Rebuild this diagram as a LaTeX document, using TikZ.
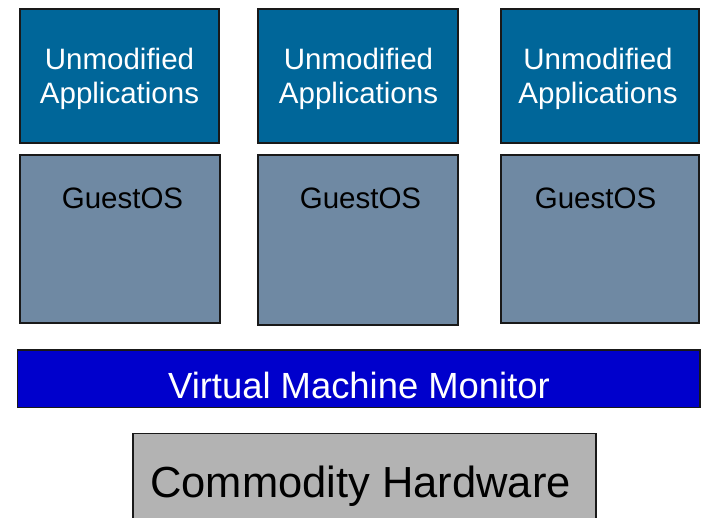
\documentclass[tikz,border=0pt]{standalone}
\usepackage{fontspec}
\setmainfont{Liberation Sans}
\definecolor{appblue}{RGB}{0,102,153}
\definecolor{osgray}{RGB}{111,137,163}
\definecolor{vmmblue}{RGB}{0,0,204}
\definecolor{hwgray}{RGB}{179,179,179}
\begin{document}
\begin{tikzpicture}[x=1pt,y=-1pt,
  layer/.style={draw=black!90,line width=1.3pt,inner sep=0pt,outer sep=0pt},
  boxtext/.style={font=\fontsize{29.5}{34}\selectfont,align=center,inner sep=0pt,anchor=base},
]
\useasboundingbox (0,0) rectangle (701,517);
% application layer
\foreach \i/\xa/\xb in {1/20/219, 2/258/458, 3/501/699}{
  \path[layer,fill=appblue] (\xa,9) rectangle (\xb,143);
}
\node[boxtext,text=white] (app1) at (119.5,103) {Unmodified\\Applications};
\node[boxtext,text=white] (app2) at (358.5,103) {Unmodified\\Applications};
\node[boxtext,text=white] (app3) at (598,103) {Unmodified\\Applications};
% guest operating systems
\path[layer,fill=osgray] (20,155) rectangle (220,323);
\path[layer,fill=osgray] (258,155) rectangle (458,325);
\path[layer,fill=osgray] (501,155) rectangle (699,323);
\node[boxtext] (os1) at (122.5,208) {GuestOS};
\node[boxtext] (os2) at (360.5,208) {GuestOS};
\node[boxtext] (os3) at (595.5,208) {GuestOS};
% monitor
\path[layer,fill=vmmblue] (17.5,350) rectangle (700,407.5);
\node[boxtext,text=white,font=\fontsize{36.4}{40}\selectfont] (vmm) at (359,398) {Virtual Machine Monitor};
% hardware
\path[layer,fill=hwgray] (133,433.5) rectangle (596,530);
\node[boxtext,font=\fontsize{43.5}{48}\selectfont] (hw) at (360.5,497) {Commodity Hardware};
\end{tikzpicture}
\end{document}
